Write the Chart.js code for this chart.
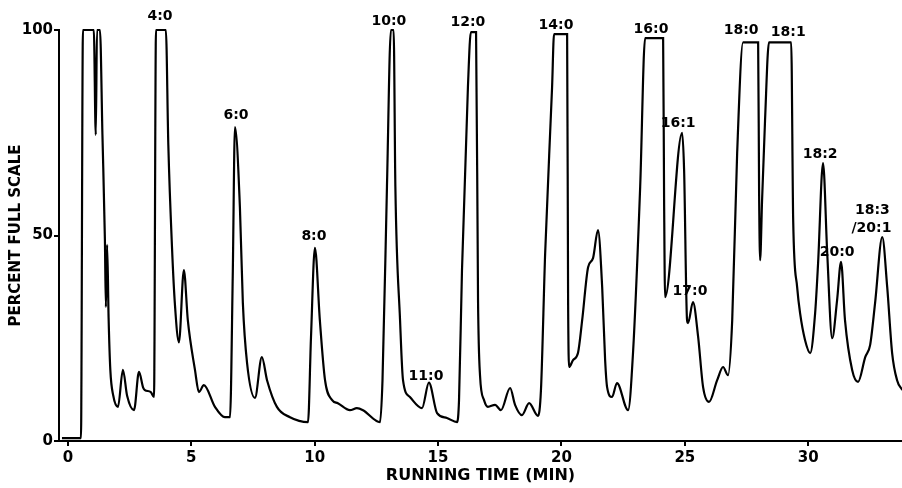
<!DOCTYPE html>
<html>
<head>
<meta charset="utf-8">
<script src="https://cdn.jsdelivr.net/npm/chart.js@4.4.1/dist/chart.umd.min.js"></script>
<style>
  html, body { margin: 0; padding: 0; background: #fff; }
  #wrap { width: 902px; height: 488px; position: relative; }
</style>
</head>
<body>
<div id="wrap"><canvas id="chromChart"></canvas></div>
<script>
// detector trace (minutes / percent full scale)
const timeMin = [
  -0.24, 0.53, 0.61, 1.05, 1.13, 1.18, 1.30, 1.40, 1.50, 1.54, 1.59, 1.65, 1.72, 1.84,
  2.03, 2.23, 2.40, 2.68, 2.88, 3.05, 3.12, 3.36, 3.49, 3.57, 3.97, 4.07, 4.22, 4.34,
  4.50, 4.70, 4.86, 5.15, 5.31, 5.51, 5.96, 6.36, 6.57, 6.68, 6.77, 6.97, 7.09, 7.26,
  7.58, 7.86, 8.07, 8.47, 9.00, 9.73, 9.85, 10.01, 10.21, 10.42, 10.70, 10.94, 11.43,
  11.71, 11.96, 12.65, 12.75, 12.93, 13.09, 13.20, 13.27, 13.46, 13.58, 13.86, 14.35,
  14.63, 14.96, 15.36, 15.77, 15.85, 15.97, 16.21, 16.33, 16.54, 16.62, 16.70, 16.86,
  17.02, 17.31, 17.55, 17.92, 18.12, 18.40, 18.69, 19.05, 19.17, 19.34, 19.62, 19.70,
  20.23, 20.27, 20.31, 20.47, 20.67, 20.84, 21.08, 21.28, 21.48, 21.65, 21.77, 21.85,
  22.05, 22.25, 22.70, 22.90, 23.19, 23.39, 24.12, 24.16, 24.20, 24.89, 24.97, 25.09,
  25.13, 25.33, 25.54, 25.74, 25.98, 26.31, 26.55, 26.75, 26.92, 27.12, 27.36, 27.97,
  28.01, 28.05, 28.13, 28.25, 28.41, 29.31, 29.39, 29.55, 29.67, 29.87, 30.08, 30.28,
  30.40, 30.60, 30.77, 30.97, 31.17, 31.33, 31.49, 31.78, 32.02, 32.31, 32.51, 32.71,
  33.00, 33.20, 33.40, 33.60, 33.81
];
const percentFS = [
  0.7, 0.7, 100, 100, 74.5, 100, 100, 74.5, 49, 32.6, 47.7, 30, 17.3, 11,
  8.3, 17.3, 11, 7.5, 16.8, 13, 12.4, 11.9, 10.7, 100, 100, 72, 47, 33,
  24, 41.6, 29.4, 17.3, 11.9, 13.6, 8.3, 5.8, 5.8, 40, 76.4, 57, 33.6, 19,
  10.5, 20.4, 14.8, 8.3, 5.8, 4.6, 25, 47, 29.4, 14.8, 10, 9.2, 7.5,
  8, 7.5, 4.6, 15, 62, 100, 100, 62, 29.4, 14.8, 10.7, 8,
  14.2, 6.8, 5.6, 4.6, 10, 41.6, 86, 99.5, 99.5, 34.3, 16, 10,
  8.3, 8.8, 7.5, 12.9, 8.8, 6.3, 9.2, 6.1, 12.4, 45.7, 86, 99,
  99, 34.3, 18, 19.7, 21.4, 29.4, 42.3, 44.5, 51.3, 37.5, 19.7, 13.1,
  10.7, 14.1, 7.5, 21.4, 61.8, 98, 98, 58.6, 35, 75, 66, 29.4,
  28.7, 33.8, 25.3, 13.1, 9.5, 14.8, 18, 16, 29.4, 70, 97, 97,
  60, 44, 58.6, 78, 97, 97, 53.8, 37.5, 31.1, 24.6, 21.4, 31.1,
  43.3, 67.6, 45.7, 25, 34.3, 43.6, 29.4, 17.3, 14.4, 20.4, 23.4, 33.6,
  49.6, 37.5, 21.4, 14.8, 12.4
];

// peak names and where they sit (data coords)
const peakNames = ['4:0', '6:0', '8:0', '10:0', '11:0', '12:0', '14:0', '16:0', '16:1',
  '17:0', '18:0', '18:1', '18:2', '20:0', '18:3', '/20:1'];
const peakAtMin = [3.73, 6.81, 9.97, 13.01, 14.51, 16.21, 19.78, 23.63, 24.73,
  25.21, 27.28, 29.19, 30.48, 31.17, 32.60, 32.56];
const peakAtPct = [103.4, 79.3, 49.9, 102.2, 15.8, 101.8, 101.2, 100.2, 77.4,
  36.3, 99.8, 99.5, 69.8, 46.0, 56.2, 51.8];

const xTicks = [0, 5, 10, 15, 20, 25, 30];
const yTicks = [0, 50, 100];

const points = timeMin.map((t, i) => ({ x: t, y: percentFS[i] }));

const peakLabels = {
  id: 'peakLabels',
  afterDatasetsDraw(chart) {
    const { ctx, scales } = chart;
    ctx.save();
    ctx.fillStyle = '#000';
    ctx.font = 'bold 14px "DejaVu Sans"';
    ctx.textAlign = 'center';
    ctx.textBaseline = 'middle';
    peakNames.forEach((name, i) => {
      ctx.fillText(name, scales.x.getPixelForValue(peakAtMin[i]), scales.y.getPixelForValue(peakAtPct[i]));
    });
    ctx.restore();
  }
};

const tickFont = { family: 'DejaVu Sans', size: 15, weight: 'bold' };

new Chart(document.getElementById('chromChart'), {
  type: 'line',
  data: {
    datasets: [{
      data: points,
      borderColor: '#000',
      borderWidth: 2.2,
      pointRadius: 0,
      fill: false,
      cubicInterpolationMode: 'monotone',
      clip: false
    }]
  },
  options: {
    responsive: true,
    maintainAspectRatio: false,
    animation: false,
    layout: { padding: { top: 30, right: 0, left: 0, bottom: 0 } },
    plugins: { legend: { display: false }, tooltip: { enabled: false } },
    scales: {
      x: {
        type: 'linear',
        min: -0.36,
        max: 33.8,
        afterFit: (scale) => { scale.height = 47; },
        afterBuildTicks: (scale) => { scale.ticks = xTicks.map(v => ({ value: v })); },
        grid: { drawOnChartArea: false, color: '#000', lineWidth: 2, tickLength: 5 },
        border: { color: '#000', width: 2 },
        ticks: { color: '#000', font: tickFont, padding: 3, maxRotation: 0 },
        title: {
          display: true,
          text: 'RUNNING TIME (MIN)',
          color: '#000',
          font: { family: 'DejaVu Sans', size: 16, weight: 'bold' },
          padding: { top: 0, bottom: 3 }
        }
      },
      y: {
        min: 0,
        max: 100,
        afterFit: (scale) => { scale.width = 59; },
        afterBuildTicks: (scale) => { scale.ticks = yTicks.map(v => ({ value: v })); },
        grid: { drawOnChartArea: false, color: '#000', lineWidth: 2, tickLength: 5 },
        border: { color: '#000', width: 2 },
        ticks: { color: '#000', font: tickFont, padding: 1 },
        title: {
          display: true,
          text: 'PERCENT FULL SCALE',
          color: '#000',
          font: { family: 'DejaVu Sans', size: 15, weight: 'bold' },
          padding: { top: 7, bottom: 0 }
        }
      }
    }
  },
  plugins: [peakLabels]
});
</script>
</body>
</html>
